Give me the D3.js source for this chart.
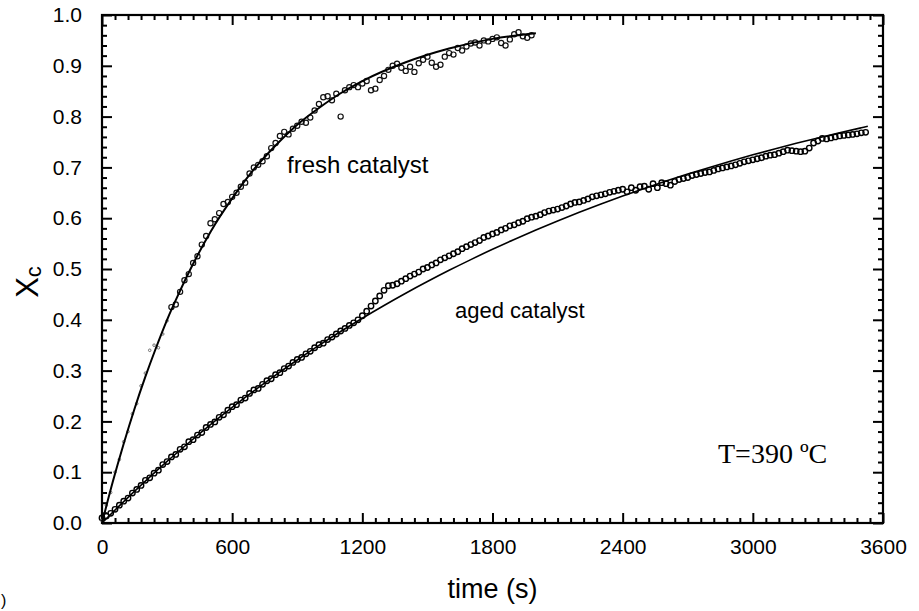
<!DOCTYPE html>
<html><head><meta charset="utf-8">
<script src="https://cdn.jsdelivr.net/npm/d3@7"></script>
<style>
body{margin:0;background:#fff;}
svg{display:block;}
text{font-family:"Liberation Sans",Arial,sans-serif;fill:#000;}
</style></head>
<body>
<svg id="chart" width="919" height="611"></svg>
<script>
// ---------- data ----------
const xTicks = [0, 600, 1200, 1800, 2400, 3000, 3600];
const yTicks = [0.0, 0.1, 0.2, 0.3, 0.4, 0.5, 0.6, 0.7, 0.8, 0.9, 1.0];

// fresh catalyst measured points (t every 20 s from 0)
const freshStep = 20;
const freshData = [
0.005,0.035,0.060,0.100,0.125,0.160,0.180,0.215,0.235,0.270,
0.295,0.340,0.350,0.345,0.372,0.398,0.425,0.430,0.455,0.478,
0.490,0.512,0.525,0.548,0.565,0.590,0.598,0.610,0.628,0.632,
0.642,0.650,0.662,0.670,0.688,0.700,0.705,0.712,0.722,0.738,
0.748,0.762,0.770,0.765,0.776,0.782,0.790,0.788,0.798,0.812,
0.825,0.838,0.840,0.832,0.845,0.800,0.852,0.858,0.862,0.858,
0.865,0.870,0.852,0.855,0.872,0.880,0.892,0.900,0.904,0.896,
0.890,0.898,0.888,0.905,0.912,0.918,0.906,0.898,0.902,0.918,
0.925,0.922,0.935,0.930,0.938,0.944,0.946,0.940,0.950,0.948,
0.953,0.956,0.945,0.940,0.952,0.962,0.966,0.958,0.955,0.960];

// fresh catalyst model curve
const freshFitT = [0,50,100,150,200,250,300,350,400,500,600,700,800,900,1000,1100,1200,1400,1600,1800,2000];
const freshFitX = [0,0.0815,0.156,0.225,0.288,0.346,0.400,0.448,0.493,0.573,0.639,0.696,0.743,0.784,0.817,0.846,0.870,0.907,0.934,0.953,0.964];

// aged catalyst measured points (t every 20 s from 0)
const agedStep = 20;
const agedData = [
0.010,0.014,0.019,0.027,0.035,0.043,0.049,0.059,0.066,0.074,
0.084,0.089,0.098,0.104,0.115,0.121,0.130,0.135,0.145,0.150,
0.160,0.164,0.173,0.178,0.188,0.194,0.199,0.208,0.213,0.222,
0.229,0.233,0.242,0.246,0.255,0.262,0.265,0.273,0.280,0.284,
0.292,0.296,0.304,0.309,0.316,0.322,0.326,0.333,0.338,0.345,
0.351,0.354,0.361,0.366,0.372,0.378,0.383,0.389,0.394,0.400,
0.408,0.417,0.427,0.437,0.447,0.458,0.467,0.468,0.471,0.476,
0.481,0.486,0.490,0.494,0.500,0.503,0.508,0.512,0.518,0.522,
0.526,0.530,0.534,0.540,0.544,0.548,0.552,0.556,0.562,0.565,
0.569,0.572,0.577,0.580,0.585,0.587,0.591,0.594,0.599,0.602,
0.604,0.607,0.611,0.614,0.616,0.618,0.621,0.624,0.628,0.631,
0.632,0.635,0.638,0.642,0.644,0.646,0.648,0.651,0.653,0.655,
0.657,0.652,0.660,0.655,0.662,0.663,0.657,0.668,0.660,0.670,
0.668,0.665,0.672,0.676,0.678,0.680,0.684,0.686,0.688,0.690,
0.691,0.694,0.697,0.699,0.701,0.703,0.705,0.708,0.711,0.713,
0.715,0.717,0.719,0.722,0.724,0.725,0.728,0.731,0.734,0.733,
0.732,0.731,0.732,0.738,0.748,0.752,0.757,0.756,0.758,0.760,
0.762,0.763,0.764,0.765,0.766,0.768,0.769];

// aged catalyst model curve
const agedFitT = [0,100,200,300,400,500,600,700,800,900,1000,1100,1200,1300,1400,1500,1600,1700,1800,1900,2000,2100,2200,2300,2400,2500,2600,2700,2800,2900,3000,3100,3200,3300,3400,3500,3530];
const agedFitX = [0,0.0421,0.0824,0.1212,0.1580,0.1935,0.2274,0.2599,0.2911,0.3209,0.3495,0.3769,0.4031,0.4282,0.4523,0.4753,0.4974,0.5185,0.5388,0.5582,0.5768,0.5946,0.6117,0.6281,0.6437,0.6587,0.6731,0.6868,0.7000,0.7126,0.7247,0.7363,0.7474,0.7580,0.7682,0.7780,0.7809];

const labels = {fresh: "fresh catalyst", aged: "aged catalyst", temp: "T=390 ºC", xTitle: "time (s)"};

// ---------- layout ----------
const L = 102, R = 883, T = 15, B = 523;
const svg = d3.select("#chart");
const x = d3.scaleLinear().domain([0, 3600]).range([L, R]);
const y = d3.scaleLinear().domain([0, 1]).range([B, T]);

const xMinor = d3.range(0, 3601, 60).filter(v => v % 600 !== 0);
const yMinor = d3.range(0, 51).map(i => i / 50).filter((v, i) => i % 5 !== 0);

function styleAxis(g) {
  g.select(".domain").remove();
  g.selectAll(".tick line").attr("stroke", "#000").attr("stroke-width", 2);
  g.selectAll(".tick text").style("font-size", "21px").attr("fill", "#000");
}

// bottom
svg.append("g").attr("transform", `translate(0,${B})`)
  .call(d3.axisBottom(x).tickValues(xTicks).tickSize(-10).tickPadding(16).tickFormat(d3.format("d")))
  .call(styleAxis);
svg.append("g").attr("transform", `translate(0,${B})`)
  .call(d3.axisBottom(x).tickValues(xMinor).tickSize(-5).tickFormat(""))
  .call(styleAxis);
// top
svg.append("g").attr("transform", `translate(0,${T})`)
  .call(d3.axisTop(x).tickValues(xTicks).tickSize(-10).tickFormat(""))
  .call(styleAxis);
svg.append("g").attr("transform", `translate(0,${T})`)
  .call(d3.axisTop(x).tickValues(xMinor).tickSize(-5).tickFormat(""))
  .call(styleAxis);
// left
svg.append("g").attr("transform", `translate(${L},0)`)
  .call(d3.axisLeft(y).tickValues(yTicks).tickSize(-10).tickPadding(20).tickFormat(d3.format(".1f")))
  .call(styleAxis);
svg.append("g").attr("transform", `translate(${L},0)`)
  .call(d3.axisLeft(y).tickValues(yMinor).tickSize(-5).tickFormat(""))
  .call(styleAxis);
// right
svg.append("g").attr("transform", `translate(${R},0)`)
  .call(d3.axisRight(y).tickValues(yTicks).tickSize(-10).tickFormat(""))
  .call(styleAxis);
svg.append("g").attr("transform", `translate(${R},0)`)
  .call(d3.axisRight(y).tickValues(yMinor).tickSize(-5).tickFormat(""))
  .call(styleAxis);

// frame
svg.append("rect").attr("x", L).attr("y", T).attr("width", R - L).attr("height", B - T)
  .attr("fill", "none").attr("stroke", "#000").attr("stroke-width", 2.2);

// ---------- marks ----------
const fresh = freshData.map((v, i) => ({t: i * freshStep, v}));
const aged = agedData.map((v, i) => ({t: i * agedStep, v}));

const line = d3.line().x(d => x(d[0])).y(d => y(d[1])).curve(d3.curveMonotoneX);

svg.append("g").selectAll("circle").data(aged).join("circle")
  .attr("cx", d => x(d.t)).attr("cy", d => y(d.v)).attr("r", 2.7)
  .attr("fill", "none").attr("stroke", "#000").attr("stroke-width", 1.4);

svg.append("g").selectAll("circle").data(fresh).join("circle")
  .attr("cx", d => x(d.t)).attr("cy", d => y(d.v))
  .attr("r", d => d.t <= 300 ? 1.3 : 2.6)
  .attr("fill", "none")
  .attr("stroke", d => d.t <= 300 ? "#666" : "#111")
  .attr("stroke-width", d => d.t <= 300 ? 0.9 : 1.2);

svg.append("path").datum(freshFitT.map((t, i) => [t, freshFitX[i]]))
  .attr("d", line).attr("fill", "none").attr("stroke", "#000").attr("stroke-width", 2);
svg.append("path").datum(agedFitT.map((t, i) => [t, agedFitX[i]]))
  .attr("d", line).attr("fill", "none").attr("stroke", "#000").attr("stroke-width", 1.6);

// ---------- text ----------
svg.append("text").attr("x", 287).attr("y", 173).style("font-size", "24px").text(labels.fresh);
svg.append("text").attr("x", 455).attr("y", 318).style("font-size", "22px").text(labels.aged);
svg.append("text").attr("x", 718).attr("y", 463)
  .style("font-family", '"Liberation Serif","Times New Roman",serif').style("font-size", "28px").text(labels.temp);
svg.append("text").attr("x", (L + R) / 2).attr("y", 598).attr("text-anchor", "middle")
  .style("font-size", "27px").text(labels.xTitle);

const yl = svg.append("text").attr("transform", "translate(38,282) rotate(-90)").attr("text-anchor", "middle");
yl.append("tspan").style("font-size", "31px").text("X");
yl.append("tspan").style("font-size", "22px").attr("dy", 3).text("c");

svg.append("text").attr("x", 1).attr("y", 606).style("font-size", "16px").text(")");
</script>
</body></html>
